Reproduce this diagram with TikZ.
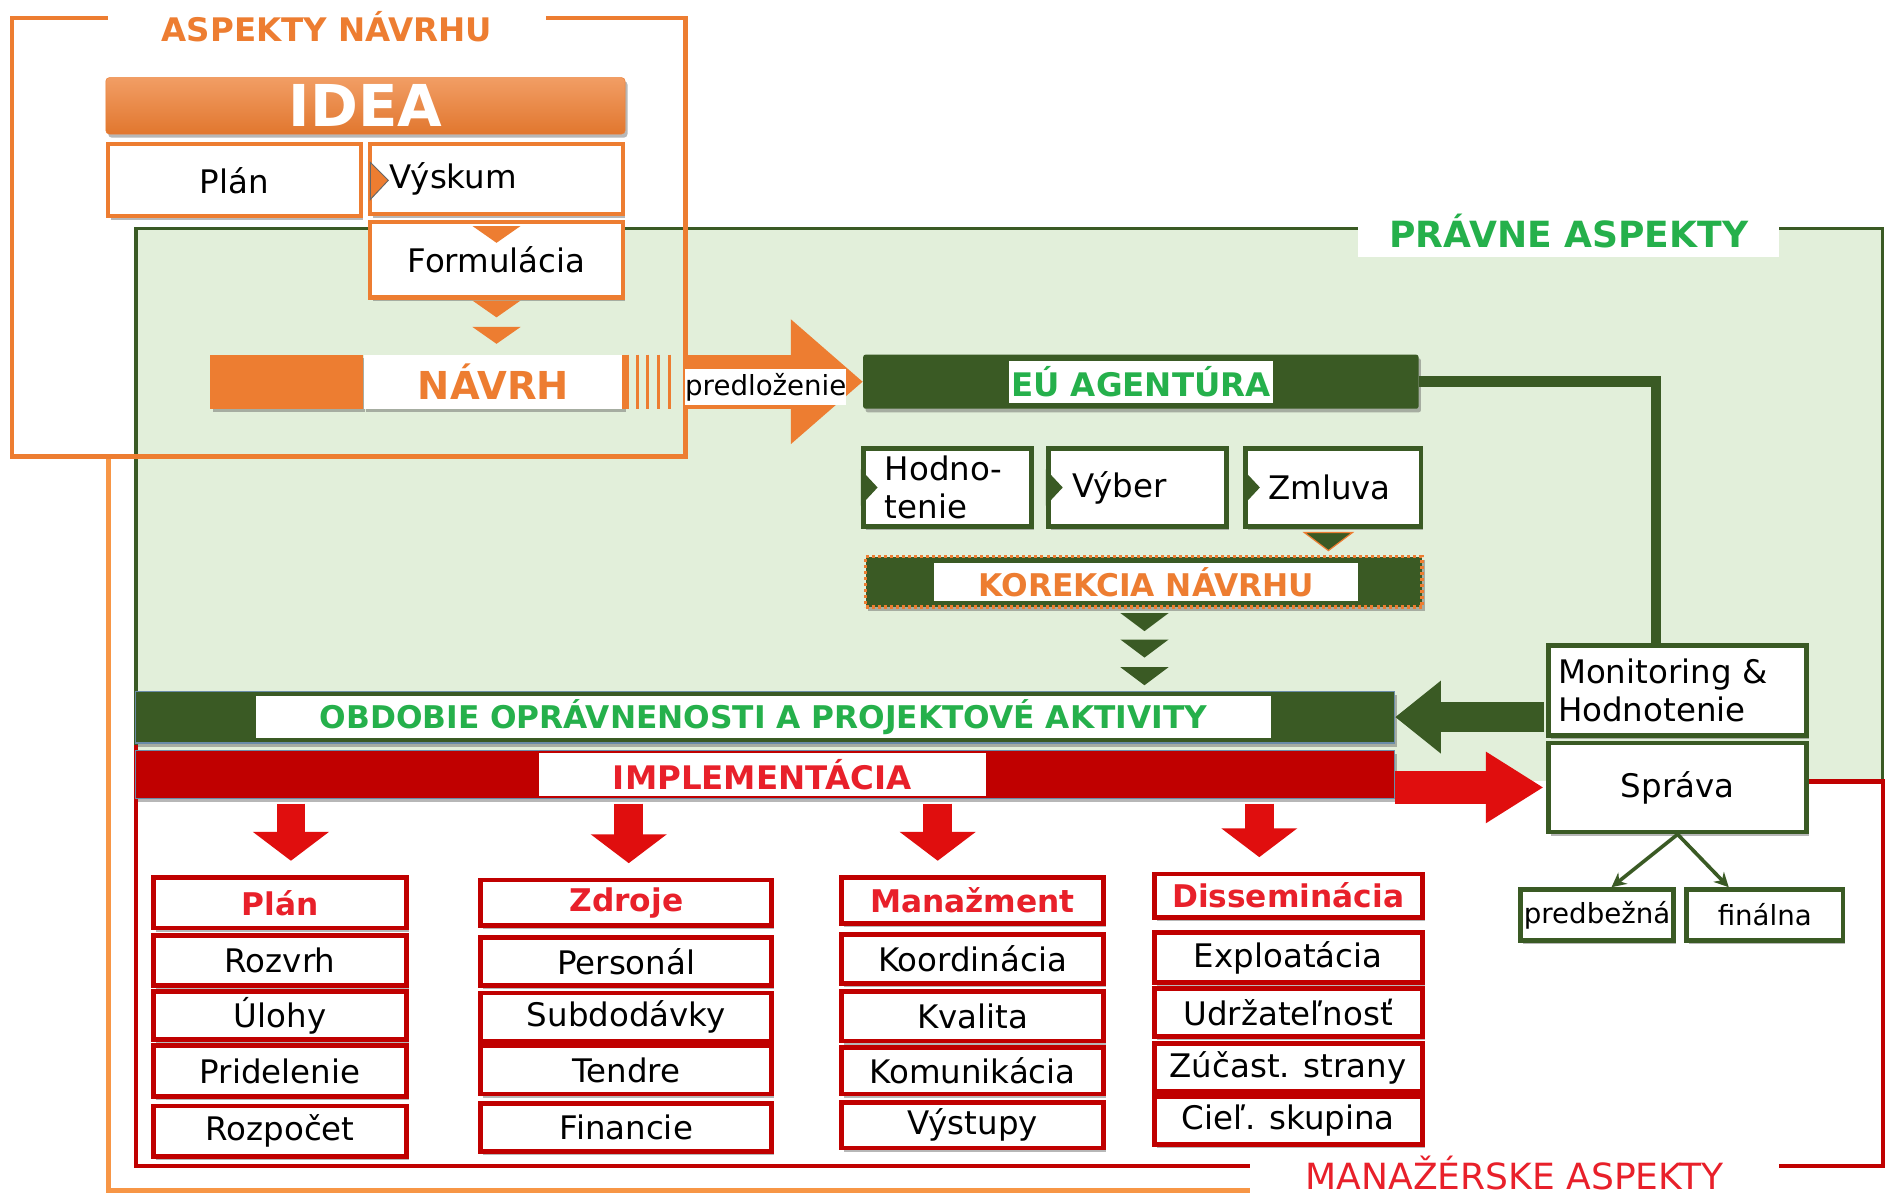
\documentclass[tikz,border=0pt]{standalone}
\usepackage{fontspec}
\setmainfont{DejaVu Sans}
\usetikzlibrary{arrows.meta,shadows,positioning,calc}

\definecolor{navrhor}{HTML}{ED7D31}
\definecolor{ramor}{HTML}{F79646}
\definecolor{pravgr}{HTML}{3A5A24}
\definecolor{pravbg}{HTML}{E2EFDA}
\definecolor{pravtxt}{HTML}{25B04B}
\definecolor{impred}{HTML}{C00000}
\definecolor{mantxt}{HTML}{E8202A}
\definecolor{arrred}{HTML}{E00E0E}
\definecolor{barline}{HTML}{6A8CA8}

\tikzset{
  sz/.style 2 args={minimum width=#1pt, minimum height=#2pt},
  shad/.style={drop shadow={shadow xshift=2pt, shadow yshift=-3pt, opacity=.4, fill=black!70}},
  txt/.style={font=\fontsize{27}{32}\selectfont},
  obox/.style={draw=navrhor, line width=3.5pt, fill=white, inner sep=0pt, txt, shad},
  gbox/.style={draw=pravgr, line width=4pt, fill=white, inner sep=0pt, txt, shad},
  rbox/.style={draw=impred, line width=4pt, fill=white, inner sep=0pt, txt, shad},
  rhead/.style={rbox, text=mantxt, font=\bfseries\fontsize{26}{30}\selectfont},
  bar/.style={inner sep=0pt, shad},
  tag/.style={fill=white, inner sep=0pt, font=\bfseries\fontsize{26}{30}\selectfont},
  aspect/.style={fill=white, inner sep=0pt},
  downarr/.style={arrred, line width=24pt, shorten >=12pt, -{Triangle[length=24pt, width=62pt]}},
}

\begin{document}
\begin{tikzpicture}[x=1pt, y=-1pt]
  \useasboundingbox (0,0) rectangle (1568,996);
  \fill[white] (0,0) rectangle (1568,996);

  \fill[pravbg] (113,190) rectangle (1566,650);
  \draw[pravgr, line width=3pt] (113,620) -- (113,190) -- (1566,190) -- (1566,650);
  \draw[impred, line width=3.5pt] (1500,650) -- (1566,650) -- (1566,970) -- (113,970) -- (113,620);
  \draw[ramor, line width=4pt] (90,380) -- (90,990) -- (1040,990);
  \draw[navrhor, line width=4pt] (10,15) rectangle (570,380);

  \node[aspect, text=navrhor, sz={364}{40}, font=\bfseries\fontsize{27}{30}\selectfont] (aspnav) at (272,22) {ASPEKTY NÁVRHU};
  \node[aspect, text=pravtxt, sz={350}{44}, font=\bfseries\fontsize{30}{34}\selectfont] (asppra) at (1305,192) {PRÁVNE ASPEKTY};
  \node[aspect, text=mantxt, sz={440}{30}, font=\fontsize{30}{32}\selectfont] (aspman) at (1260,976) {MANAŽÉRSKE ASPEKTY};

  \node[sz={432}{47}, rounded corners=3pt, top color=navrhor!75!white, bottom color=navrhor!95!black, draw=navrhor, text=white, font=\bfseries\fontsize{48}{50}\selectfont, shad] (idea) at (304,88) {IDEA};
  \node[obox, sz={210}{60}] (plan) at (195,150) {Plán};
  \node[obox, sz={210}{58}, text width=178pt, inner xsep=16pt, align=left] (vyskum) at (413,149) {Výskum};
  \node[obox, sz={210}{63}] (formul) at (413,216) {Formulácia};
  \fill[navrhor, draw=black!60, line width=.8pt] (308,135) -- (323,150) -- (308,166) -- cycle;
  \foreach \y in {188,250,272}
    \fill[navrhor] (393,\y) -- (433,\y) -- (413,\y+14) -- cycle;

  \node[fill=navrhor, sz={127}{45}, bar] (navrhl) at (238.5,317.5) {};
  \node[fill=white, text=navrhor, sz={216}{45}, bar, font=\bfseries\fontsize{32}{34}\selectfont, right=0pt of navrhl] (navrh) {NÁVRH};
  \foreach \x/\w in {520/6,530/2.5,539/2.5,548/2.5,557/2.5}
    \draw[navrhor, line width=\w pt] (\x,295) -- (\x,340);

  \node[bar, fill=pravgr, sz={462}{45}, rounded corners=2pt] (euag) at (949,317.5) {};
  \node[tag, text=pravtxt, sz={220}{35}, font=\bfseries\fontsize{27}{30}\selectfont] (euagt) at (euag) {EÚ AGENTÚRA};
  \draw[navrhor, line width=45pt, -{Triangle[length=60pt, width=100pt]}] ([xshift=50pt]navrh.east) -- (euag.west);
  \node[fill=white, inner sep=0pt, sz={128}{30}, font=\fontsize{23}{26}\selectfont] (predl) at (637,322) {predloženie};

  \node[gbox, sz={140}{65}, text width=104pt, inner xsep=18pt, align=left] (hodn) at (788,405.5) {Hodno-\\tenie};
  \node[gbox, sz={148}{65}, text width=108pt, inner xsep=20pt, align=left] (vyber) at (946,405.5) {Výber};
  \node[gbox, sz={146}{65}, text width=108pt, inner xsep=19pt, align=left] (zmluva) at (1109,405.5) {Zmluva};
  \foreach \n in {hodn,vyber,zmluva}
    \fill[pravgr] (\n.west) ++(0,-15) -- ++(14,15) -- ++(-14,15) -- cycle;
  \fill[pravgr, draw=navrhor, line width=1pt] (1085,443) -- (1125,443) -- (1105,458) -- cycle;

  \node[bar, fill=pravgr, draw=navrhor, line width=3pt, dash pattern=on 2.5pt off 2.5pt, sz={463}{42}] (korek) at (951.5,484) {};
  \node[tag, text=navrhor, sz={353}{32}] (korekt) at (953.5,484) {KOREKCIA NÁVRHU};
  \foreach \y in {510,532,555}
    \fill[pravgr] (932,\y) -- (972,\y) -- (952,\y+15) -- cycle;

  \node[bar, fill=pravgr, draw=barline, line width=1pt, sz={1047}{43}] (obdob) at (636.5,596.5) {};
  \node[tag, text=pravtxt, sz={844}{35}] (obdobt) at (635,596.5) {OBDOBIE OPRÁVNENOSTI A PROJEKTOVÉ AKTIVITY};
  \node[bar, fill=impred, draw=barline, line width=1pt, sz={1047}{40}] (impl) at (636.5,644) {};
  \node[tag, text=mantxt, sz={372}{36}, font=\bfseries\fontsize{27}{30}\selectfont] (implt) at (634,644) {IMPLEMENTÁCIA};

  \node[gbox, sz={215}{75}, text width=199pt, inner xsep=8pt, align=left] (monit) at (1395.5,574.5) {Monitoring \&\\Hodnotenie};
  \node[gbox, sz={215}{74}] (sprava) at (1395.5,655) {Správa};
  \node[gbox, sz={127}{42}, font=\fontsize{23}{26}\selectfont] (predb) at (1328.5,761) {predbežná};
  \node[gbox, sz={130}{42}, font=\fontsize{23}{26}\selectfont] (final) at (1468,761) {finálna};

  \draw[pravgr, line width=9pt] (euag.east) -| ([xshift=-18pt]monit.north);
  \draw[pravgr, line width=25pt, shorten <=2pt, -{Triangle[length=38pt, width=58pt]}] (monit.west |- obdob.east) -- (obdob.east);
  \draw[arrred, line width=27pt, shorten >=2pt, -{Triangle[length=48pt, width=56pt]}] (impl.east |- sprava.west) -- (sprava.west);
  \draw[pravgr, line width=3pt, -{Stealth[length=12pt, width=12pt]}] (sprava.south) -- ([xshift=12pt]predb.north);
  \draw[pravgr, line width=3pt, -{Stealth[length=12pt, width=12pt]}] (sprava.south) -- ([xshift=-30pt]final.north);

  \node[rhead, sz={210}{42}] (cplan) at (233,751) {Plán};
  \node[rbox, sz={210}{42}] (rozvrh) at (233,799) {Rozvrh};
  \node[rbox, sz={210}{40}] (ulohy) at (233,845) {Úlohy};
  \node[rbox, sz={210}{42}] (pridel) at (233,891) {Pridelenie};
  \node[rbox, sz={210}{42}] (rozpoc) at (233,941) {Rozpočet};

  \node[rhead, sz={242}{38}] (zdroje) at (521,751) {Zdroje};
  \node[rbox, sz={242}{40}] (person) at (521,800) {Personál};
  \node[rbox, sz={242}{40}] (subdod) at (521,846) {Subdodávky};
  \node[rbox, sz={242}{40}] (tendre) at (521,890) {Tendre};
  \node[rbox, sz={242}{40}] (financ) at (521,938) {Financie};

  \node[rhead, sz={218}{38}] (manaz) at (809,749) {Manažment};
  \node[rbox, sz={218}{41}] (koord) at (809,797.5) {Koordinácia};
  \node[rbox, sz={218}{41}] (kval) at (809,845.5) {Kvalita};
  \node[rbox, sz={218}{39}] (komun) at (809,890.5) {Komunikácia};
  \node[rbox, sz={218}{38}] (vystup) at (809,936) {Výstupy};

  \node[rhead, sz={223}{36}] (dissem) at (1071.5,745) {Disseminácia};
  \node[rbox, sz={223}{41}] (exploa) at (1071.5,796.5) {Exploatácia};
  \node[rbox, sz={223}{40}] (udrz) at (1071.5,842) {Udržateľnosť};
  \node[rbox, sz={223}{40}] (zucast) at (1071.5,888) {Zúčast. strany};
  \node[rbox, sz={223}{40}] (ciel) at (1071.5,932) {Cieľ. skupina};

  \draw[downarr] ($(cplan.north|-impl.south)+(9,4)$) -- ($(cplan.north)+(9,0)$);
  \draw[downarr] ($(zdroje.north|-impl.south)+(2,4)$) -- ($(zdroje.north)+(2,0)$);
  \draw[downarr] ($(manaz.north|-impl.south)+(-29,4)$) -- ($(manaz.north)+(-29,0)$);
  \draw[downarr] ($(dissem.north|-impl.south)+(-24,4)$) -- ($(dissem.north)+(-24,0)$);
\end{tikzpicture}
\end{document}
